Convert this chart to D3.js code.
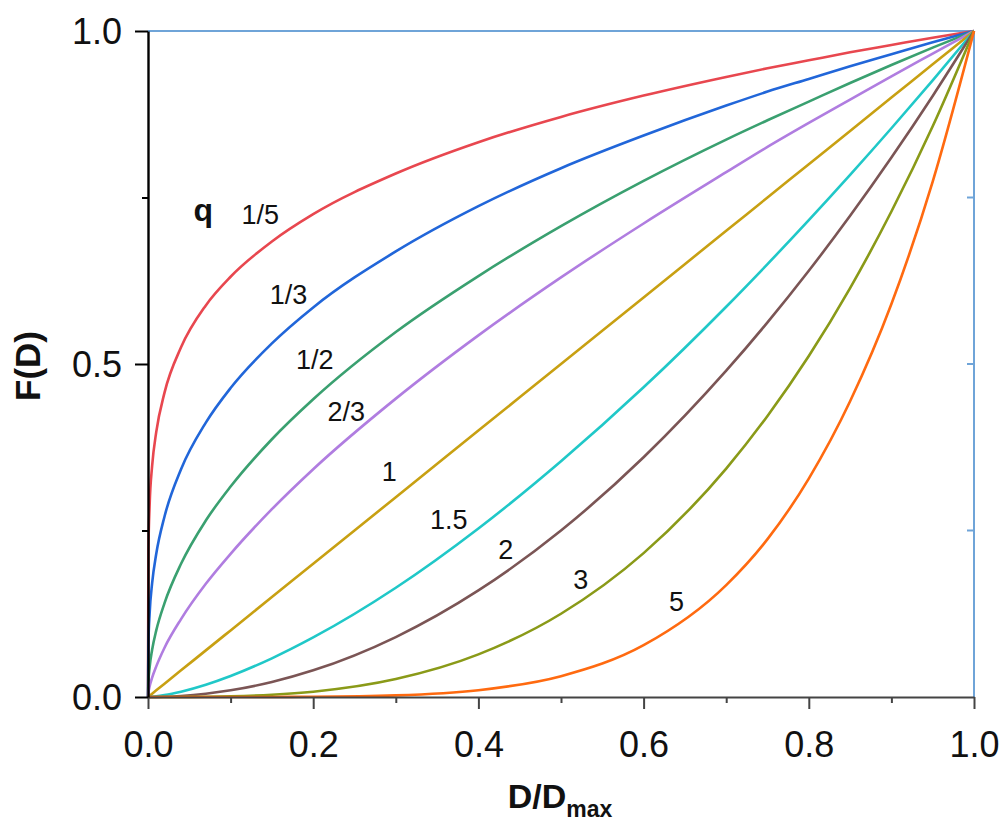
<!DOCTYPE html>
<html><head><meta charset="utf-8">
<script src="https://cdn.jsdelivr.net/npm/d3@7"></script>
<style>body{margin:0;background:#fff}svg{display:block;font-family:"Liberation Sans",Arial,sans-serif}</style>
</head><body>
<svg id="c" width="1003" height="822"></svg>
<script>
// D/Dmax sample positions
const xs = [0, 0.0005, 0.002, 0.005, 0.01, 0.02, 0.04, 0.07, 0.1, 0.15, 0.2, 0.3, 0.4, 0.5, 0.6, 0.7, 0.75, 0.8, 0.85, 0.9, 0.95, 1.0];
// F(D) for each q
const q_1_5 = [0, 0.219, 0.289, 0.347, 0.398, 0.457, 0.525, 0.588, 0.631, 0.684, 0.725, 0.786, 0.833, 0.871, 0.903, 0.931, 0.944, 0.956, 0.968, 0.979, 0.990, 1];
const q_1_3 = [0, 0.079, 0.126, 0.171, 0.215, 0.271, 0.342, 0.412, 0.464, 0.531, 0.585, 0.669, 0.737, 0.794, 0.843, 0.888, 0.909, 0.928, 0.947, 0.965, 0.983, 1];
const q_1_2 = [0, 0.022, 0.045, 0.071, 0.100, 0.141, 0.200, 0.265, 0.316, 0.387, 0.447, 0.548, 0.632, 0.707, 0.775, 0.837, 0.866, 0.894, 0.922, 0.949, 0.975, 1];
const q_2_3 = [0, 0.006, 0.016, 0.029, 0.046, 0.074, 0.117, 0.170, 0.215, 0.282, 0.342, 0.448, 0.543, 0.630, 0.711, 0.788, 0.826, 0.862, 0.897, 0.932, 0.966, 1];
const q_1   = [0, 0.0005, 0.002, 0.005, 0.01, 0.02, 0.04, 0.07, 0.1, 0.15, 0.2, 0.3, 0.4, 0.5, 0.6, 0.7, 0.75, 0.8, 0.85, 0.9, 0.95, 1];
const q_3_2 = [0, 0, 0.0001, 0.0004, 0.001, 0.0028, 0.008, 0.0185, 0.0316, 0.0581, 0.0894, 0.164, 0.253, 0.354, 0.465, 0.586, 0.650, 0.716, 0.784, 0.854, 0.926, 1];
const q_2   = [0, 0, 0, 0, 0.0001, 0.0004, 0.0016, 0.0049, 0.01, 0.0225, 0.04, 0.09, 0.16, 0.25, 0.36, 0.49, 0.5625, 0.64, 0.7225, 0.81, 0.9025, 1];
const q_3   = [0, 0, 0, 0, 0, 0, 0.0001, 0.0003, 0.001, 0.0034, 0.008, 0.027, 0.064, 0.125, 0.216, 0.343, 0.422, 0.512, 0.614, 0.729, 0.857, 1];
const q_5   = [0, 0, 0, 0, 0, 0, 0, 0, 0, 0.0001, 0.0003, 0.0024, 0.0102, 0.0313, 0.0778, 0.168, 0.237, 0.328, 0.444, 0.590, 0.774, 1];
const seriesNames = ["1/5", "1/3", "1/2", "2/3", "1", "1.5", "2", "3", "5"];
const seriesValues = [q_1_5, q_1_3, q_1_2, q_2_3, q_1, q_3_2, q_2, q_3, q_5];
const colors = ["#e8474f", "#2166d9", "#3aa070", "#b07de0", "#c8a012", "#20c8c8", "#7b5555", "#8a9a18", "#ff6a10"];
// label anchor (data coords) for each series name
const labelX = [0.136, 0.170, 0.202, 0.240, 0.292, 0.364, 0.433, 0.524, 0.640];
const labelY = [0.724, 0.605, 0.506, 0.429, 0.338, 0.267, 0.221, 0.176, 0.143];
const xTicks = [0, 0.2, 0.4, 0.6, 0.8, 1.0];
const xMinor = [0.1, 0.3, 0.5, 0.7, 0.9];
const yTicks = [0, 0.5, 1.0];
const yMinor = [0.25, 0.75];

const svg = d3.select("#c");
const x = d3.scaleLinear().domain([0, 1]).range([148, 974]);
const y = d3.scaleLinear().domain([0, 1]).range([697, 31]);

// frame top/right
svg.append("line").attr("x1", x(0)).attr("x2", x(1)).attr("y1", y(1)).attr("y2", y(1)).attr("stroke", "#6fa4d8").attr("stroke-width", 2);
svg.append("line").attr("x1", x(1)).attr("x2", x(1)).attr("y1", y(1)).attr("y2", y(0)).attr("stroke", "#6fa4d8").attr("stroke-width", 2);
// right inward ticks
svg.selectAll(".rt").data(yMinor.concat([0.5])).enter().append("line")
  .attr("x1", x(1) - 7).attr("x2", x(1)).attr("y1", d => y(d)).attr("y2", d => y(d))
  .attr("stroke", "#6fa4d8").attr("stroke-width", 2);

// curves
const line = d3.line().x((d, i) => x(xs[i])).y(d => y(d)).curve(d3.curveMonotoneX);
const g = svg.append("g");
seriesValues.forEach((vals, k) => {
  g.append("path").attr("d", line(vals)).attr("fill", "none")
    .attr("stroke", colors[k]).attr("stroke-width", 2.6);
});

const FONT = "Liberation Sans, Arial, sans-serif";
// bottom axis
const xAxis = d3.axisBottom(x).tickValues(xTicks).tickFormat(d3.format(".1f")).tickSize(12).tickSizeOuter(0);
const gx = svg.append("g").attr("transform", `translate(0,${y(0)})`).call(xAxis);
gx.select(".domain").attr("stroke", "#444").attr("stroke-width", 2);
gx.selectAll(".tick line").attr("stroke", "#444").attr("stroke-width", 2);
gx.selectAll(".tick text").attr("font-size", 36).attr("fill", "#111").attr("dy", 0).attr("y", 60)
  .attr("font-family", FONT);
const xAxisMinor = d3.axisBottom(x).tickValues(xMinor).tickFormat("").tickSize(6).tickSizeOuter(0);
const gxm = svg.append("g").attr("transform", `translate(0,${y(0)})`).call(xAxisMinor);
gxm.select(".domain").remove();
gxm.selectAll(".tick line").attr("stroke", "#444").attr("stroke-width", 2);

// left axis
const yAxis = d3.axisLeft(y).tickValues(yTicks).tickFormat(d3.format(".1f")).tickSize(13).tickSizeOuter(0);
const gy = svg.append("g").attr("transform", `translate(${x(0)},0)`).call(yAxis);
gy.select(".domain").attr("stroke", "#000").attr("stroke-width", 2.4);
gy.selectAll(".tick line").attr("stroke", "#000").attr("stroke-width", 2);
gy.selectAll(".tick text").attr("font-size", 36).attr("fill", "#111").attr("x", -26).attr("dy", "0.35em")
  .attr("font-family", FONT);
const yAxisMinor = d3.axisLeft(y).tickValues(yMinor).tickFormat("").tickSize(6).tickSizeOuter(0);
const gym = svg.append("g").attr("transform", `translate(${x(0)},0)`).call(yAxisMinor);
gym.select(".domain").remove();
gym.selectAll(".tick line").attr("stroke", "#000").attr("stroke-width", 2);

// axis titles
svg.append("text").attr("transform", `translate(40,${y(0.5) + 2}) rotate(-90)`).attr("text-anchor", "middle")
  .attr("font-size", 35).attr("font-weight", "bold").attr("fill", "#111").text("F(D)");
const xt = svg.append("text").attr("x", 560).attr("y", 808).attr("text-anchor", "middle")
  .attr("font-size", 34).attr("font-weight", "bold").attr("fill", "#111");
xt.append("tspan").text("D/D");
xt.append("tspan").attr("font-size", 23).attr("dy", 9).text("max");

// curve labels
svg.append("text").attr("x", x(0.067)).attr("y", y(labelY[0])).attr("dy", "0.2em").attr("text-anchor", "middle")
  .attr("font-size", 32).attr("font-weight", "bold").attr("fill", "#111").text("q");
svg.selectAll(".lab").data(seriesNames).enter().append("text")
  .attr("x", (d, i) => x(labelX[i])).attr("y", (d, i) => y(labelY[i])).attr("dy", "0.35em")
  .attr("text-anchor", "middle").attr("font-size", 27).attr("fill", "#111").text(d => d);
</script>
</body></html>
